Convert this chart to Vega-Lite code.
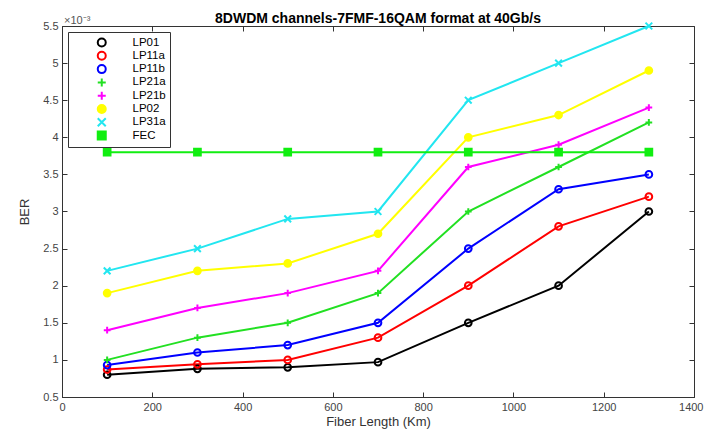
{
  "$schema": "https://vega.github.io/schema/vega-lite/v6.json",
  "width": 632,
  "height": 371,
  "autosize": "none",
  "padding": {"left": 62, "right": 10, "top": 26, "bottom": 37},
  "background": "white",
  "title": {"text": "8DWDM channels-7FMF-16QAM format at 40Gb/s", "font": "Liberation Sans", "fontSize": 14, "fontWeight": "bold", "color": "#000", "offset": -11},
  "config": {"view": {"stroke": "#333", "strokeWidth": 1}, "font": "Liberation Sans"},
  "resolve": {"axis": {"x": "independent", "y": "independent"}},
  "data": {"values": [
    {"series": "LP01", "len": 100, "ber": 0.00080}, {"series": "LP01", "len": 300, "ber": 0.00088}, {"series": "LP01", "len": 500, "ber": 0.00090}, {"series": "LP01", "len": 700, "ber": 0.00097}, {"series": "LP01", "len": 900, "ber": 0.0015}, {"series": "LP01", "len": 1100, "ber": 0.0020}, {"series": "LP01", "len": 1300, "ber": 0.0030},
    {"series": "LP11a", "len": 100, "ber": 0.00087}, {"series": "LP11a", "len": 300, "ber": 0.00094}, {"series": "LP11a", "len": 500, "ber": 0.0010}, {"series": "LP11a", "len": 700, "ber": 0.0013}, {"series": "LP11a", "len": 900, "ber": 0.0020}, {"series": "LP11a", "len": 1100, "ber": 0.0028}, {"series": "LP11a", "len": 1300, "ber": 0.0032},
    {"series": "LP11b", "len": 100, "ber": 0.00093}, {"series": "LP11b", "len": 300, "ber": 0.0011}, {"series": "LP11b", "len": 500, "ber": 0.0012}, {"series": "LP11b", "len": 700, "ber": 0.0015}, {"series": "LP11b", "len": 900, "ber": 0.0025}, {"series": "LP11b", "len": 1100, "ber": 0.0033}, {"series": "LP11b", "len": 1300, "ber": 0.0035},
    {"series": "LP21a", "len": 100, "ber": 0.0010}, {"series": "LP21a", "len": 300, "ber": 0.0013}, {"series": "LP21a", "len": 500, "ber": 0.0015}, {"series": "LP21a", "len": 700, "ber": 0.0019}, {"series": "LP21a", "len": 900, "ber": 0.0030}, {"series": "LP21a", "len": 1100, "ber": 0.0036}, {"series": "LP21a", "len": 1300, "ber": 0.0042},
    {"series": "LP21b", "len": 100, "ber": 0.0014}, {"series": "LP21b", "len": 300, "ber": 0.0017}, {"series": "LP21b", "len": 500, "ber": 0.0019}, {"series": "LP21b", "len": 700, "ber": 0.0022}, {"series": "LP21b", "len": 900, "ber": 0.0036}, {"series": "LP21b", "len": 1100, "ber": 0.0039}, {"series": "LP21b", "len": 1300, "ber": 0.0044},
    {"series": "LP02", "len": 100, "ber": 0.0019}, {"series": "LP02", "len": 300, "ber": 0.0022}, {"series": "LP02", "len": 500, "ber": 0.0023}, {"series": "LP02", "len": 700, "ber": 0.0027}, {"series": "LP02", "len": 900, "ber": 0.0040}, {"series": "LP02", "len": 1100, "ber": 0.0043}, {"series": "LP02", "len": 1300, "ber": 0.0049},
    {"series": "LP31a", "len": 100, "ber": 0.0022}, {"series": "LP31a", "len": 300, "ber": 0.0025}, {"series": "LP31a", "len": 500, "ber": 0.0029}, {"series": "LP31a", "len": 700, "ber": 0.0030}, {"series": "LP31a", "len": 900, "ber": 0.0045}, {"series": "LP31a", "len": 1100, "ber": 0.0050}, {"series": "LP31a", "len": 1300, "ber": 0.0055},
    {"series": "FEC", "len": 100, "ber": 0.0038}, {"series": "FEC", "len": 300, "ber": 0.0038}, {"series": "FEC", "len": 500, "ber": 0.0038}, {"series": "FEC", "len": 700, "ber": 0.0038}, {"series": "FEC", "len": 900, "ber": 0.0038}, {"series": "FEC", "len": 1100, "ber": 0.0038}, {"series": "FEC", "len": 1300, "ber": 0.0038}
  ]},
  "layer": [
    {"mark": {"type": "line", "strokeWidth": 2},
     "encoding": {
       "x": {"field": "len", "type": "quantitative", "title": "Fiber Length (Km)",
         "scale": {"domain": [0, 1400], "nice": false},
         "axis": {"values": [0, 200, 400, 600, 800, 1000, 1200, 1400], "format": "d", "grid": false, "tickSize": -5, "labelPadding": 9, "labelFontSize": 11, "labelColor": "#444", "titleFontSize": 13, "titleFontWeight": "normal", "titleColor": "#333", "titlePadding": 3, "domainColor": "#333", "tickColor": "#333", "labelFlush": false,
           "labelAlign": {"expr": "datum.value === 1400 ? 'right' : 'center'"}, "labelOffset": {"expr": "datum.value === 1400 ? 9 : 0"}}},
       "y": {"field": "ber", "type": "quantitative", "title": "BER",
         "scale": {"domain": [0.0005, 0.0055], "nice": false, "zero": false},
         "axis": {"values": [0.0005, 0.001, 0.0015, 0.002, 0.0025, 0.003, 0.0035, 0.004, 0.0045, 0.005, 0.0055], "labelExpr": "format(datum.value*1000, '.2~f')", "grid": false, "tickSize": -5, "labelPadding": 9, "labelFontSize": 11, "labelColor": "#444", "titleFontSize": 13, "titleFontWeight": "normal", "titleColor": "#333", "titlePadding": 11, "domainColor": "#333", "tickColor": "#333", "labelFlush": false}},
       "color": {"field": "series", "type": "nominal",
         "scale": {"domain": ["LP01", "LP11a", "LP11b", "LP21a", "LP21b", "LP02", "LP31a", "FEC"],
                   "range": ["#000000", "#ff0000", "#0000ff", "#22e022", "#ff00ff", "#ffff00", "#22e6f0", "#11ee11"]}}}},
    {"mark": {"type": "point", "filled": false, "size": 45, "strokeWidth": 2, "opacity": 1},
     "encoding": {
       "x": {"field": "len", "type": "quantitative", "axis": null},
       "y": {"field": "ber", "type": "quantitative", "axis": null},
       "color": {"field": "series", "type": "nominal",
         "scale": {"domain": ["LP01", "LP11a", "LP11b", "LP21a", "LP21b", "LP02", "LP31a", "FEC"],
                   "range": ["#000000", "#ff0000", "#0000ff", "#22e022", "#ff00ff", "#ffff00", "#22e6f0", "#11ee11"]},
         "legend": {"title": null, "orient": "top-left", "offset": 6, "strokeColor": "#333", "fillColor": "white", "padding": 4, "labelFontSize": 11.5, "labelColor": "#000", "rowPadding": 0.3, "clipHeight": 13, "symbolSize": 64, "symbolStrokeWidth": 2, "symbolOffset": 24, "labelOffset": 25}},
       "shape": {"field": "series", "type": "nominal",
         "scale": {"domain": ["LP01", "LP11a", "LP11b", "LP21a", "LP21b", "LP02", "LP31a", "FEC"],
                   "range": ["circle", "circle", "circle", "M-1,0L1,0M0,-1L0,1", "M-1,0L1,0M0,-1L0,1", "circle", "M-1,-1L1,1M-1,1L1,-1", "square"]}},
       "fill": {"field": "series", "type": "nominal",
         "scale": {"domain": ["LP01", "LP11a", "LP11b", "LP21a", "LP21b", "LP02", "LP31a", "FEC"],
                   "range": ["transparent", "transparent", "transparent", "transparent", "transparent", "#ffff00", "transparent", "#11ee11"]}}
     }},
    {"data": {"values": [{"x": 0, "y": 0.0055, "t": "×10⁻³"}]},
     "mark": {"type": "text", "align": "left", "baseline": "bottom", "dy": 0, "dx": 2, "fontSize": 11, "color": "#555"},
     "encoding": {
       "x": {"field": "x", "type": "quantitative", "axis": {"orient": "top", "values": [0, 200, 400, 600, 800, 1000, 1200, 1400], "labels": false, "title": null, "domain": false, "grid": false, "tickSize": -5, "tickColor": "#333"}},
       "y": {"field": "y", "type": "quantitative", "axis": {"orient": "right", "values": [0.0005, 0.001, 0.0015, 0.002, 0.0025, 0.003, 0.0035, 0.004, 0.0045, 0.005, 0.0055], "labels": false, "title": null, "domain": false, "grid": false, "tickSize": -5, "tickColor": "#333"}},
       "text": {"field": "t"}}}
  ]
}
